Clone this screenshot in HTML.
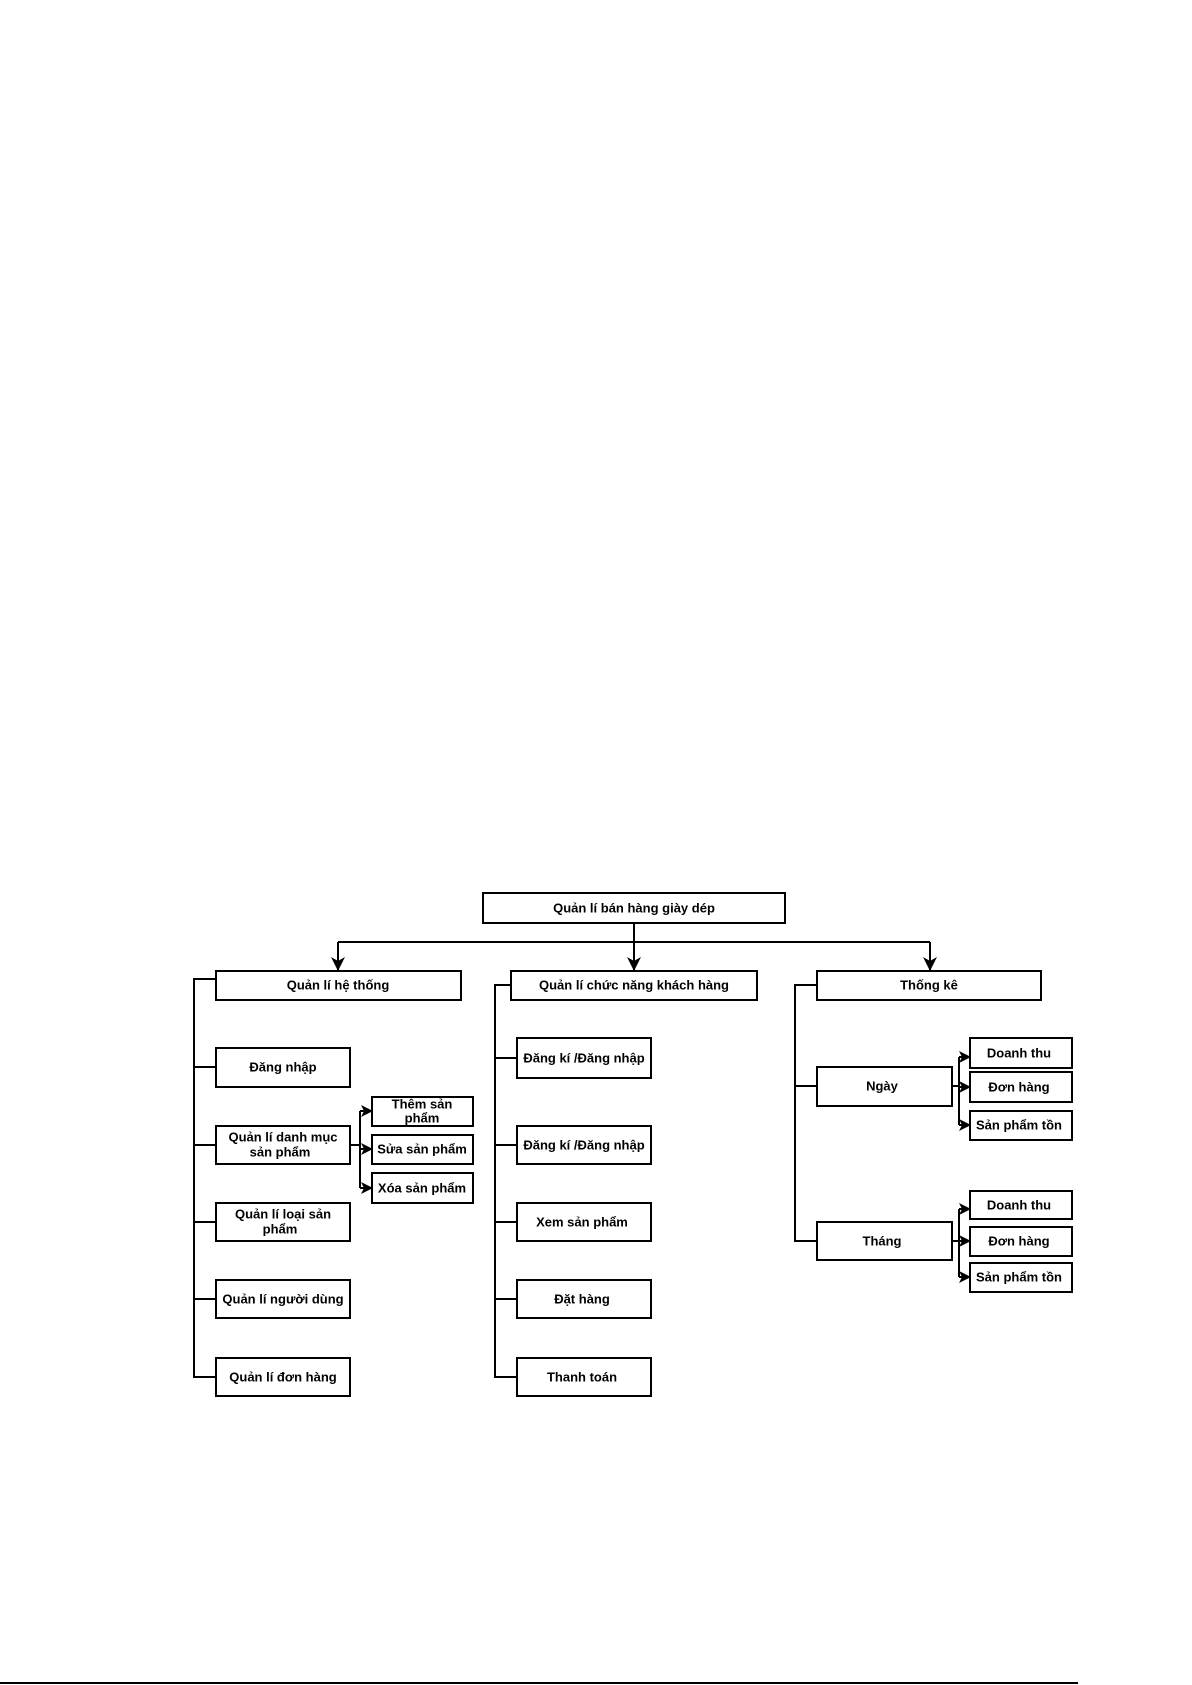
<!DOCTYPE html>
<html><head><meta charset="utf-8"><style>
html,body{margin:0;padding:0;background:#fff;}
svg{display:block;}
text{font-family:"Liberation Sans",sans-serif;font-weight:bold;font-size:13px;fill:#000;text-anchor:middle;dominant-baseline:central;}
</style></head><body>
<svg width="1192" height="1685" viewBox="0 0 1192 1685" xmlns="http://www.w3.org/2000/svg">
<defs>
<marker id="a" markerWidth="12" markerHeight="12" refX="11" refY="6" orient="auto" markerUnits="userSpaceOnUse"><path d="M0,0 L12,6 L0,12 L3,6 Z" fill="#000"/></marker>
<marker id="b" markerWidth="14" markerHeight="14" refX="13" refY="7" orient="auto" markerUnits="userSpaceOnUse"><path d="M0,0 L14,7 L0,14 L4,7 Z" fill="#000"/></marker>
</defs>
<g fill="none" stroke="#000" stroke-width="2">
<rect x="483" y="893" width="302" height="30"/>
<line x1="634" y1="923" x2="634" y2="970" marker-end="url(#b)"/>
<line x1="338" y1="942" x2="930" y2="942"/>
<line x1="338" y1="942" x2="338" y2="970" marker-end="url(#b)"/>
<line x1="930" y1="942" x2="930" y2="970" marker-end="url(#b)"/>
<rect x="216" y="971" width="245" height="29"/>
<rect x="511" y="971" width="246" height="29"/>
<rect x="817" y="971" width="224" height="29"/>
<polyline points="216,979 194,979 194,1377 216,1377"/>
<line x1="194" y1="1067" x2="216" y2="1067"/>
<line x1="194" y1="1145" x2="216" y2="1145"/>
<line x1="194" y1="1222" x2="216" y2="1222"/>
<line x1="194" y1="1299" x2="216" y2="1299"/>
<rect x="216" y="1048" width="134" height="39"/>
<rect x="216" y="1126" width="134" height="38"/>
<rect x="216" y="1203" width="134" height="38"/>
<rect x="216" y="1280" width="134" height="38"/>
<rect x="216" y="1358" width="134" height="38"/>
<line x1="350" y1="1145" x2="360" y2="1145"/>
<line x1="360" y1="1111" x2="360" y2="1188"/>
<line x1="360" y1="1111" x2="372" y2="1111" marker-end="url(#a)"/>
<line x1="360" y1="1149" x2="372" y2="1149" marker-end="url(#a)"/>
<line x1="360" y1="1188" x2="372" y2="1188" marker-end="url(#a)"/>
<rect x="372" y="1097" width="101" height="29"/>
<rect x="372" y="1135" width="101" height="29"/>
<rect x="372" y="1173" width="101" height="30"/>
<polyline points="511,985 495,985 495,1377 517,1377"/>
<line x1="495" y1="1058" x2="517" y2="1058"/>
<line x1="495" y1="1145" x2="517" y2="1145"/>
<line x1="495" y1="1222" x2="517" y2="1222"/>
<line x1="495" y1="1299" x2="517" y2="1299"/>
<rect x="517" y="1038" width="134" height="40"/>
<rect x="517" y="1126" width="134" height="38"/>
<rect x="517" y="1203" width="134" height="38"/>
<rect x="517" y="1280" width="134" height="38"/>
<rect x="517" y="1358" width="134" height="38"/>
<polyline points="817,985 795,985 795,1241 817,1241"/>
<line x1="795" y1="1086" x2="817" y2="1086"/>
<rect x="817" y="1067" width="135" height="39"/>
<rect x="817" y="1222" width="135" height="38"/>
<line x1="952" y1="1086" x2="959" y2="1086"/>
<line x1="959" y1="1057" x2="959" y2="1125"/>
<line x1="959" y1="1057" x2="970" y2="1057" marker-end="url(#a)"/>
<line x1="959" y1="1087" x2="970" y2="1087" marker-end="url(#a)"/>
<line x1="959" y1="1125" x2="970" y2="1125" marker-end="url(#a)"/>
<line x1="952" y1="1241" x2="959" y2="1241"/>
<line x1="959" y1="1209" x2="959" y2="1277"/>
<line x1="959" y1="1209" x2="970" y2="1209" marker-end="url(#a)"/>
<line x1="959" y1="1241" x2="970" y2="1241" marker-end="url(#a)"/>
<line x1="959" y1="1277" x2="970" y2="1277" marker-end="url(#a)"/>
<rect x="970" y="1038" width="102" height="30"/>
<rect x="970" y="1072" width="102" height="30"/>
<rect x="970" y="1111" width="102" height="29"/>
<rect x="970" y="1191" width="102" height="28"/>
<rect x="970" y="1227" width="102" height="29"/>
<rect x="970" y="1263" width="102" height="29"/>
</g>
<line x1="0" y1="1683" x2="1078" y2="1683" stroke="#000" stroke-width="2"/>
<text x="634" y="908">Quản lí bán hàng giày dép</text>
<text x="338" y="985">Quản lí hệ thống</text>
<text x="634" y="985">Quản lí chức năng khách hàng</text>
<text x="929" y="985">Thống kê</text>
<text x="283" y="1067">Đăng nhập</text>
<text x="283" y="1137">Quản lí danh mục</text>
<text x="280" y="1152">sản phẩm</text>
<text x="283" y="1214">Quản lí loại sản</text>
<text x="280" y="1229">phẩm</text>
<text x="283" y="1299">Quản lí người dùng</text>
<text x="283" y="1377">Quản lí đơn hàng</text>
<text x="422" y="1104">Thêm sản</text>
<text x="422" y="1118">phẩm</text>
<text x="422" y="1149">Sửa sản phẩm</text>
<text x="422" y="1188">Xóa sản phẩm</text>
<text x="584" y="1058">Đăng kí /Đăng nhập</text>
<text x="584" y="1145">Đăng kí /Đăng nhập</text>
<text x="582" y="1222">Xem sản phẩm</text>
<text x="582" y="1299">Đặt hàng</text>
<text x="582" y="1377">Thanh toán</text>
<text x="882" y="1086">Ngày</text>
<text x="882" y="1241">Tháng</text>
<text x="1019" y="1053">Doanh thu</text>
<text x="1019" y="1087">Đơn hàng</text>
<text x="1019" y="1125">Sản phẩm tồn</text>
<text x="1019" y="1205">Doanh thu</text>
<text x="1019" y="1241">Đơn hàng</text>
<text x="1019" y="1277">Sản phẩm tồn</text>
</svg>
</body></html>
